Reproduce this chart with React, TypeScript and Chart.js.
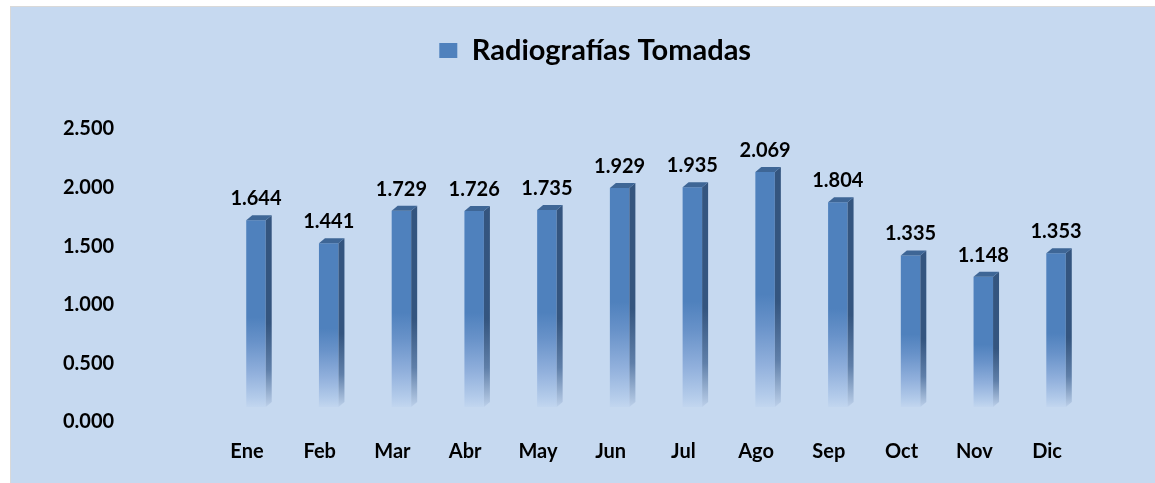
import React, { useEffect, useRef } from "react";
import { Chart, registerables } from "chart.js";

Chart.register(...registerables);

const categories = ["Ene", "Feb", "Mar", "Abr", "May", "Jun", "Jul", "Ago", "Sep", "Oct", "Nov", "Dic"];
const radiografias = [1.644, 1.441, 1.729, 1.726, 1.735, 1.929, 1.935, 2.069, 1.804, 1.335, 1.148, 1.353];
const seriesName = "Radiografías Tomadas";
const yMax = 2.5;
const yStep = 0.5;

const FONT = "Lato";
const DX = 9;
const DY = -15;
const DEPTH_X = 6;
const DEPTH_Y = 5;
const LEGEND_SHIFT = 22;

const frontGradient = (ctx: CanvasRenderingContext2D, top: number, base: number) => {
  const g = ctx.createLinearGradient(0, top, 0, base);
  g.addColorStop(0, "#4f81bd");
  g.addColorStop(0.52, "#4f81bd");
  g.addColorStop(0.65, "#6892c9");
  g.addColorStop(0.82, "#91b0dc");
  g.addColorStop(0.95, "#b3cbea");
  g.addColorStop(1, "#c2d6ef");
  return g;
};

const sideGradient = (ctx: CanvasRenderingContext2D, top: number, base: number) => {
  const g = ctx.createLinearGradient(0, top, 0, base);
  g.addColorStop(0, "#34557f");
  g.addColorStop(0.55, "#34557f");
  g.addColorStop(0.8, "#5f7fa9");
  g.addColorStop(1, "#bcd0ea");
  return g;
};

const bar3dPlugin = {
  id: "bar3d",
  beforeInit(chart: any) {
    const lg = chart.legend;
    if (lg) {
      const origFit = lg.fit.bind(lg);
      lg.fit = function () {
        origFit();
        this.height = 103;
      };
      const origDraw = lg.draw.bind(lg);
      lg.draw = function (...args: any[]) {
        const c = chart.ctx;
        c.save();
        c.translate(LEGEND_SHIFT, 0);
        origDraw(...args);
        c.restore();
      };
    }
  },
  beforeDatasetsDraw(chart: any) {
    chart.ctx.save();
    chart.ctx.translate(DX, DY);
  },
  afterDatasetsDraw(chart: any) {
    const ctx = chart.ctx as CanvasRenderingContext2D;
    const meta = chart.getDatasetMeta(0);
    meta.data.forEach((el: any) => {
      const { x, y, base, width } = el.getProps(["x", "y", "base", "width"], true);
      if (![x, y, base, width].every(Number.isFinite)) return;
      const l = x - width / 2;
      const r = x + width / 2;
      ctx.beginPath();
      ctx.moveTo(r, y);
      ctx.lineTo(r + DEPTH_X, y - DEPTH_Y);
      ctx.lineTo(r + DEPTH_X, base - DEPTH_Y);
      ctx.lineTo(r, base);
      ctx.closePath();
      ctx.fillStyle = sideGradient(ctx, y, base);
      ctx.fill();
      ctx.beginPath();
      ctx.moveTo(l, y);
      ctx.lineTo(l + DEPTH_X, y - DEPTH_Y);
      ctx.lineTo(r + DEPTH_X, y - DEPTH_Y);
      ctx.lineTo(r, y);
      ctx.closePath();
      ctx.fillStyle = "#3e6696";
      ctx.fill();
    });
    ctx.restore();
    ctx.save();
    ctx.font = `bold 20px ${FONT}`;
    ctx.fillStyle = "#000";
    ctx.textAlign = "center";
    ctx.textBaseline = "alphabetic";
    meta.data.forEach((el: any, i: number) => {
      const { x, y } = el.getProps(["x", "y"], true);
      if (!Number.isFinite(x) || !Number.isFinite(y)) return;
      ctx.fillText(radiografias[i].toFixed(3), x + DX, y + DY - 15);
    });
    ctx.restore();
  },
};

export default function App() {
  const ref = useRef<HTMLCanvasElement>(null);
  useEffect(() => {
    if (!ref.current) return;
    const chart = new Chart(ref.current, {
      type: "bar",
      data: {
        labels: categories,
        datasets: [
          {
            label: seriesName,
            data: radiografias,
            xAxisID: "x",
            yAxisID: "y2",
            borderWidth: 0,
            categoryPercentage: 1,
            barPercentage: 0.268,
            backgroundColor: (c: any) => {
              if (c.type !== "data") return "#4f81bd";
              const s = c.chart.scales && c.chart.scales.y2;
              if (!s) return "#4f81bd";
              const top = s.getPixelForValue(c.raw);
              const base = s.getPixelForValue(0);
              if (!Number.isFinite(top) || !Number.isFinite(base) || top === base) return "#4f81bd";
              return frontGradient(c.chart.ctx, top, base);
            },
          },
        ],
      },
      options: {
        responsive: false,
        animation: false,
        devicePixelRatio: 1,
        layout: { padding: { left: 52, right: 71.6, top: 19, bottom: 0 } },
        plugins: {
          legend: {
            display: true,
            position: "top",
            labels: {
              font: { family: FONT, weight: "bold", size: 29 },
              color: "#000",
              boxWidth: 18,
              boxHeight: 15,
              padding: 10,
            },
          },
          tooltip: { enabled: false },
        },
        scales: {
          x: {
            axis: "x",
            position: "bottom",
            grid: { display: false, drawTicks: false },
            border: { display: false },
            ticks: {
              font: { family: FONT, weight: "bold", size: 20 },
              color: "#000",
              padding: 18,
            },
            afterFit(s: any) {
              s.height = 61;
            },
          },
          y: {
            axis: "y",
            position: "left",
            type: "linear",
            min: 0,
            max: yMax,
            grid: { display: false, drawTicks: false },
            border: { display: false },
            ticks: {
              stepSize: yStep,
              font: { family: FONT, weight: "bold", size: 20 },
              color: "#000",
              padding: 0,
              crossAlign: "far",
              callback: (v: any) => Number(v).toFixed(3),
            },
            afterFit(s: any) {
              s.width = 147.6;
            },
          },
          y2: {
            axis: "y",
            position: "left",
            type: "linear",
            display: false,
            min: 0,
            max: 2.58,
          },
        },
      },
      plugins: [bar3dPlugin],
    } as any);
    return () => chart.destroy();
  }, []);
  return (
    <div
      style={{
        position: "fixed",
        left: 10,
        top: 6,
        width: 1145,
        height: 477,
        boxSizing: "border-box",
        background: "#c6d9f0",
        borderTop: "1px solid #d9d9d9",
        borderLeft: "1px solid #d9d9d9",
      }}
    >
      <canvas ref={ref} width={1144} height={476} style={{ display: "block" }} />
    </div>
  );
}
